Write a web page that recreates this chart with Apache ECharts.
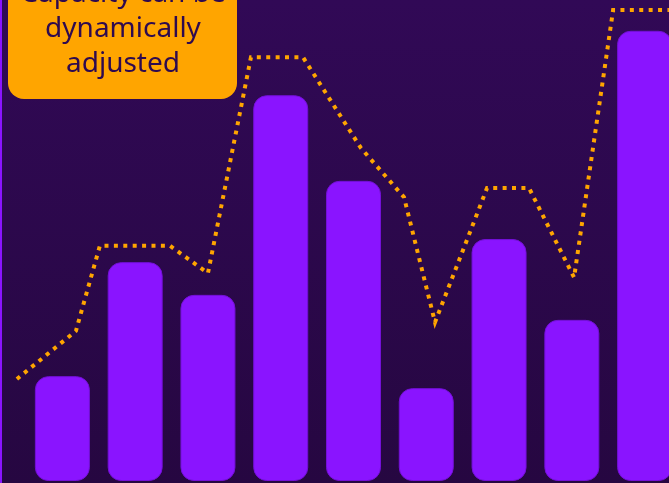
<!DOCTYPE html>
<html>
<head>
<meta charset="utf-8">
<script src="https://cdn.jsdelivr.net/npm/echarts@6/dist/echarts.min.js"></script>
<style>
html,body{margin:0;padding:0;background:#2c0850;}
#chart{width:669px;height:483px;}
</style>
</head>
<body>
<div id="chart"></div>
<script>
// Categories and values
const categories = ['1', '2', '3', '4', '5', '6', '7', '8', '9'];
const demand = [21.8, 45.5, 38.7, 80.2, 62.4, 19.3, 50.3, 33.5, 93.6];
// Capacity line: x in category-index units, y in value units
const capacityX = [-0.625, 0.186, 0.515, 1.478, 2.0, 2.591, 3.306, 4.103, 4.694, 5.12, 5.835, 6.412, 7.031, 7.567, 8.6];
const capacityY = [21.2, 31.2, 48.9, 48.9, 43.2, 88.1, 88.1, 69.2, 59.0, 33.0, 60.9, 60.9, 42.3, 97.9, 97.9];
const calloutText = 'Capacity can be\ndynamically\nadjusted';

const chart = echarts.init(document.getElementById('chart'));
const lineData = capacityX.map((x, i) => [x, capacityY[i]]);
const band = 655 / 9;

chart.setOption({
  animation: false,
  backgroundColor: {
    type: 'linear', x: 0, y: 0, x2: 0, y2: 1,
    colorStops: [{offset: 0, color: '#310956'}, {offset: 1, color: '#260741'}]
  },
  grid: [
    {left: 26, width: 655, top: 0, bottom: 2, containLabel: false, outerBoundsMode: 'none'},
    {left: 26 - 0.3 * band, width: 655 + 0.6 * band, top: 0, bottom: 2, containLabel: false, outerBoundsMode: 'none'}
  ],
  xAxis: [
    {type: 'category', data: categories, show: false, gridIndex: 0},
    {type: 'value', min: -0.8, max: 8.8, show: false, gridIndex: 1}
  ],
  yAxis: [
    {type: 'value', min: 0, max: 100, show: false, gridIndex: 0},
    {type: 'value', min: 0, max: 100, show: false, gridIndex: 1}
  ],
  series: [
    {
      type: 'bar',
      data: demand,
      barWidth: 55,
      itemStyle: {color: '#8a14ff', borderColor: '#7410d8', borderWidth: 1, borderRadius: 13}
    },
    {
      type: 'line',
      xAxisIndex: 1,
      yAxisIndex: 1,
      data: lineData,
      showSymbol: false,
      symbol: 'none',
      clip: false,
      lineStyle: {color: '#ffa500', width: 4, type: [4, 5.4], cap: 'butt', join: 'miter', miterLimit: 10},
      z: 5
    }
  ],
  graphic: [
    {type: 'rect', left: 0, top: 0, shape: {width: 2, height: 483}, style: {fill: '#8a14ff'}, z: 20},
    {
      type: 'group', z: 30,
      children: [
        {type: 'rect', shape: {x: 8, y: -60, width: 229, height: 159, r: 16}, style: {fill: '#ffa500'}},
        {type: 'text', style: {
          text: calloutText, x: 123, y: -23, align: 'center', verticalAlign: 'top',
          fill: '#2e0a4f', fontSize: 28, fontFamily: 'Noto Sans', lineHeight: 35
        }}
      ]
    }
  ]
});
</script>
</body>
</html>
